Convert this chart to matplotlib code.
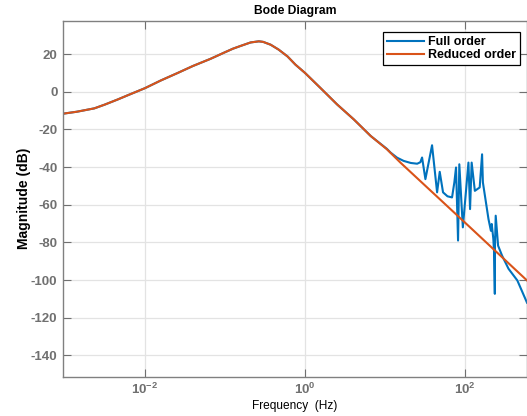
import matplotlib
matplotlib.use('Agg')
import matplotlib.pyplot as plt

plt.rcParams['font.family'] = ['Liberation Sans', 'DejaVu Sans']
plt.rcParams['mathtext.fontset'] = 'custom'
plt.rcParams['mathtext.rm'] = 'Liberation Sans'
plt.rcParams['mathtext.bf'] = 'Liberation Sans:bold'
plt.rcParams['axes.unicode_minus'] = False

# Reduced order model magnitude
freq_red = [0.001, 0.00141, 0.00234, 0.00316, 0.00457, 0.00631, 0.01,
            0.0158, 0.0257, 0.0398, 0.066, 0.1, 0.126, 0.158, 0.209, 0.265,
            0.30, 0.372, 0.468, 0.603, 0.759, 1.0, 1.55, 2.51, 4.07, 6.61,
            10.5, 15.5, 115.0, 590.0]
mag_red = [-11.5, -10.6, -8.8, -6.8, -4.1, -1.6, 1.9,
           6.0, 10.0, 13.7, 17.5, 21.0, 22.9, 24.4, 26.2, 26.8,
           26.5, 25.0, 22.4, 18.8, 14.4, 10.0, 2.1, -6.7, -14.7, -23.5,
           -30.5, -37.6, -72.0, -100.2]

# Full order model magnitude: same as reduced at low frequency, then resonances
n_common = 26
freq_full = freq_red[:n_common] + [
    10.5, 11.7, 14.1, 17.0, 20.9, 25.1, 27.5, 28.9, 31.8, 38.5, 44.5, 48.0,
    52.8, 60.0, 68.4, 73.1, 76.7, 81.3, 84.3, 93.3, 109.6, 114.8, 120.2,
    131.8, 141.3, 151.4, 162.2, 166.0, 195.0, 209.0, 214.0, 224.0, 229.0,
    234.0, 235.0, 240.0, 257.0, 288.0, 347.0, 447.0, 590.0]
mag_full = mag_red[:n_common] + [
    -30.3, -32.3, -35.0, -36.7, -37.8, -38.2, -37.4, -34.9, -46.4, -28.4,
    -53.4, -42.5, -53.4, -55.5, -56.1, -48.1, -40.2, -79.0, -38.5, -72.0,
    -37.6, -62.3, -37.6, -52.6, -51.7, -50.8, -33.2, -48.1, -67.6, -73.8,
    -70.2, -78.0, -85.2, -107.3, -81.7, -65.8, -81.7, -87.0, -94.0, -100.2,
    -112.0]

yticks = list(range(-140, 21, 20))
xticks = [1e-2, 1e0, 1e2]
xticklabels = [r'$\mathbf{10^{-2}}$', r'$\mathbf{10^{0}}$', r'$\mathbf{10^{2}}$']

fig = plt.figure(figsize=(5.27, 4.16), dpi=100)
ax = fig.add_axes([0.1195, 0.0945, 0.8805, 0.8555])

ax.semilogx(freq_full, mag_full, color='#0072BD', lw=1.5, label='Full order')
ax.semilogx(freq_red, mag_red, color='#D95319', lw=1.5, label='Reduced order')

ax.set_xlim(9.5e-4, 590)
ax.set_ylim(-151.3, 37.7)
ax.set_xticks(xticks)
ax.set_xticklabels(xticklabels)
ax.minorticks_off()
ax.set_yticks(yticks)

ax.grid(True, color='#e3e3e3', lw=0.9)
ax.set_axisbelow(True)
ax.tick_params(direction='in', length=5.5, width=0.8, colors='#707070',
               top=True, right=True, labelsize=9.5, pad=4)
for lab in ax.get_yticklabels():
    lab.set_fontweight('bold')
for s in ax.spines.values():
    s.set_color('#808080')
    s.set_linewidth(1.0)

ax.set_title('Bode Diagram', fontsize=8.7, fontweight='bold', pad=5)
ax.set_ylabel('Magnitude (dB)', fontsize=10, fontweight='bold', labelpad=0)
ax.set_xlabel('Frequency  (Hz)', fontsize=8.6, labelpad=2)

leg = ax.legend(loc='upper right', bbox_to_anchor=(0.984, 0.968),
                prop={'weight': 'bold', 'size': 9}, fancybox=False,
                framealpha=1, edgecolor='black', handlelength=3.0,
                handletextpad=0.3, borderpad=0.3, labelspacing=0.1,
                borderaxespad=0)
leg.get_frame().set_linewidth(0.9)

fig.savefig('out.png', dpi=100)
